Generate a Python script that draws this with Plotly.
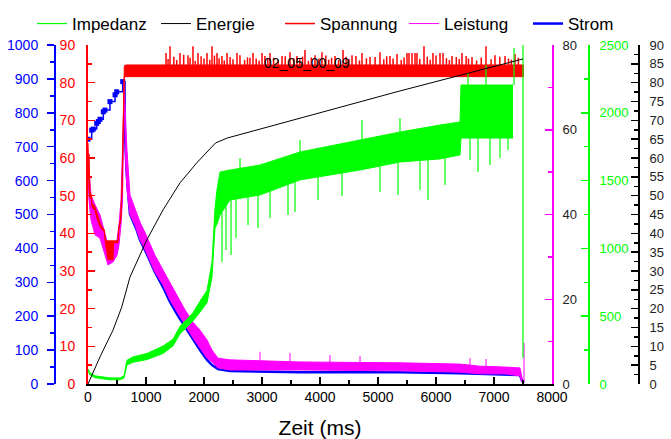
import numpy as np
import plotly.graph_objects as go

W, H = 671, 439
FONT = "Liberation Sans, Arial, sans-serif"

# ---------------- data ----------------
# Energie (black, right-most axis 0..90)
energie_t = [0, 207, 431, 581, 724, 1012, 1293, 1586, 1874, 2103, 2200, 2400, 2736, 3310, 5379, 7500]
energie_v = [0, 7.2, 14.3, 20.4, 28.4, 38.2, 46.2, 53.4, 58.7, 62.6, 64.0, 65.3, 66.7, 69.2, 77.8, 86.3]

# Spannung (red, 0..90) - band envelope + spikes
span_t = [0, 8, 17, 26, 34, 60, 69, 121, 155, 200, 241, 280, 300, 345, 362, 431, 440, 517, 530,
          564, 586, 609, 626, 660, 7517]
span_up = [64, 58, 61, 52, 51, 50, 48, 47, 45, 43, 41.5, 41, 38, 38, 38, 38, 38, 38, 41.5,
           44, 52, 70, 84.5, 84.7, 84.7]
span_lo = [58, 54, 55, 50, 49.5, 49, 47, 46, 44, 42, 41, 40.5, 37.5, 33, 33, 33, 37.5, 37.5, 41,
           43.5, 51, 68, 81.5, 81.6, 81.6]
span_spk_t = [1345, 1414, 1586, 1724, 1810, 1897, 2052, 2138, 2224, 2310, 2397, 2569, 2793, 2845,
              3000, 3138, 3345, 3483, 3603, 3741, 3914, 4034, 4259, 4397, 4552, 4724, 4862, 5034,
              5207, 5328, 5500, 5534, 5586, 5638, 5672, 5793, 5948, 6069, 6121, 6276, 6448, 6621,
              6862, 7017, 7190, 7362]
span_spk_v = [87.9, 89.7, 87.9, 87.3, 89.7, 87.9, 87.9, 89.7, 87.9, 87.1, 87.9, 87.9, 86.6, 87.9,
              87.9, 87.9, 87.1, 88.1, 87.1, 88.7, 87.3, 88.1, 87.1, 88.7, 87.3, 87.9, 86.8, 88.1,
              87.1, 87.6, 87.9, 87.9, 87.9, 87.9, 87.9, 89.7, 87.9, 87.9, 87.9, 87.1, 87.9, 86.8,
              89.7, 87.3, 87.1, 87.6]
span_fuzz_t = [1380, 1480, 1530, 1650, 1760, 1850, 1950, 2000, 2100, 2180, 2260, 2350, 2450, 2500,
               2620, 2700, 2750, 2900, 2950, 3050, 3100, 3200, 3280, 3400, 3550, 3650, 3700, 3800,
               3850, 3980, 4100, 4150, 4200, 4320, 4450, 4500, 4620, 4680, 4800, 4950, 5100, 5150,
               5260, 5400, 5450, 5720, 5850, 5900, 6000, 6180, 6230, 6350, 6400, 6520, 6560, 6700,
               6780, 6950, 7100, 7250, 7300, 7420]
span_fuzz_v = [86.3, 86.9, 86.0, 87.4, 86.6, 85.8, 87.0, 86.4, 86.1, 87.2, 86.5, 85.9, 86.8, 86.2,
               87.3, 86.0, 86.7, 86.4, 85.9, 87.1, 86.3, 86.6, 86.0, 87.0, 86.5, 86.2, 86.9, 85.8,
               86.7, 86.4, 87.2, 86.1, 86.6, 86.0, 86.9, 86.3, 87.1, 85.9, 86.5, 86.8, 86.2, 87.0,
               86.4, 86.0, 86.7, 86.3, 86.9, 86.1, 87.2, 86.5, 86.0, 86.8, 86.3, 87.1, 86.4, 85.9,
               86.7, 86.2, 86.9, 86.4, 86.1, 86.6]

# Leistung (magenta, 0..80) - band envelope + spikes
leis_t = [0, 17, 52, 121, 207, 293, 345, 431, 500, 534, 569, 595, 626, 647, 672, 724, 810, 897,
          1000, 1155, 1293, 1414, 1534, 1672, 1810, 1931, 2052, 2138, 2241, 2448, 3655, 5379,
          6414, 6759, 7190, 7448, 7483, 7517]
leis_up = [55.2, 50.5, 44.6, 42.3, 39.9, 35.2, 32.8, 32.8, 34.0, 37.5, 43.4, 55.2, 71.3, 62.3,
           55.2, 44.6, 41.5, 38.2, 35.2, 30.4, 26.9, 23.8, 21.0, 17.5, 14.6, 12.7, 10.4, 8.0,
           6.1, 5.7, 5.2, 5.0, 4.7, 4.2, 4.0, 3.8, 1.4, 0.5]
leis_lo = [49.3, 43.4, 38.7, 35.2, 34.4, 30.4, 28.1, 28.8, 30.4, 32.8, 37.5, 43.4, 69.4, 52.9,
           45.8, 39.9, 37.5, 34.0, 31.2, 26.4, 23.4, 19.8, 17.0, 13.9, 10.9, 8.5, 6.1, 5.2,
           3.8, 3.3, 3.3, 3.1, 2.8, 2.4, 2.4, 1.9, 0.5, 0.2]
leis_spk_t = [2966, 3483, 4172, 4690, 6586, 6862, 7517]
leis_spk_v = [7.6, 7.3, 6.8, 6.6, 6.1, 5.9, 9.7]

# Strom (blue, 0..1000)
strom_early_t = [0, 64, 92, 150, 178, 207, 264, 293, 379, 466, 495, 598]
strom_early_v = [722, 749, 752, 769, 774, 781, 803, 808, 833, 853, 862, 892]
strom_t = [598, 629, 638, 664, 695, 724, 840, 897, 1012, 1155, 1293, 1414, 1534, 1672, 1810,
           1931, 2052, 2138, 2241, 2448, 3655, 5379, 6414, 6759, 7448, 7483, 7517]
strom_v = [892, 891, 740, 631, 558, 501, 454, 425, 384, 330, 286, 242, 206, 168, 130, 100, 71,
           56, 44, 38, 35, 35, 32, 29.5, 26.5, 9, 3]

# Impedanz (green, 0..2500) - band envelope + spikes
imp_t = [0, 34, 121, 259, 379, 552, 621, 672, 776, 1017, 1293, 1466, 1586, 1707, 1810, 1931,
         2052, 2138, 2190, 2224, 2276, 2448, 2966, 3655, 4690, 5379, 6069, 6414, 6431, 7328]
imp_up = [110, 82, 60, 52, 45, 45, 60, 175, 200, 225, 280, 330, 425, 480, 525, 610, 690, 900,
          1300, 1431, 1563, 1578, 1615, 1711, 1799, 1858, 1910, 1932, 2205, 2205]
imp_lo = [96, 68, 46, 38, 31, 31, 45, 140, 160, 180, 225, 280, 370, 420, 465, 530, 600, 790,
          1150, 1180, 1246, 1357, 1394, 1505, 1578, 1637, 1660, 1689, 1814, 1814]
imp_dn_t = [2310, 2379, 2466, 2552, 2759, 2931, 3138, 3448, 3569, 3966, 4379, 5034, 5345, 5724,
            5862, 6155, 6586, 6724, 6931, 7103, 7241]
imp_dn_v = [900, 988, 951, 1077, 1173, 1150, 1224, 1246, 1268, 1357, 1386, 1416, 1394, 1431,
            1357, 1468, 1652, 1563, 1615, 1667, 1726]
imp_upk_t = [2621, 3655, 4724, 5379, 6552, 6862, 7345]
imp_upk_v = [1667, 1799, 1947, 1962, 2294, 2352, 2478]
imp_tail_t = [7500, 7500]
imp_tail_v = [2500, 192]

legend_names = ["Impedanz", "Energie", "Spannung", "Leistung", "Strom"]
label_text = "02_05_00_09"
x_title = "Zeit (ms)"

C_BLUE, C_RED, C_MAG, C_GRN, C_BLK = "#0000FF", "#FF0000", "#FF00FF", "#00FF00", "#000000"


def spikes(ts, tips, base_t, base_v):
    xs, ys = [], []
    for t, v in zip(ts, tips):
        xs += [t, t, None]
        ys += [float(np.interp(t, base_t, base_v)), v, None]
    return xs, ys


fig = go.Figure()

# --- Strom (y) ---
fig.add_trace(go.Scatter(x=strom_early_t, y=strom_early_v, mode="lines+markers", yaxis="y",
                         line=dict(color=C_BLUE, width=1.5, shape="hv"),
                         marker=dict(symbol="square", size=5, color=C_BLUE),
                         showlegend=False, hoverinfo="skip"))
fig.add_trace(go.Scatter(x=strom_t, y=strom_v, mode="lines", yaxis="y", name=legend_names[4],
                         legendrank=5, line=dict(color=C_BLUE, width=2.5)))

# --- Leistung (y2) ---
fig.add_trace(go.Scatter(x=leis_t, y=leis_lo, mode="lines", yaxis="y2", showlegend=False,
                         line=dict(color=C_MAG, width=1)))
fig.add_trace(go.Scatter(x=leis_t, y=leis_up, mode="lines", yaxis="y2", showlegend=False,
                         fill="tonexty", fillcolor=C_MAG, line=dict(color=C_MAG, width=1)))
sx, sy = spikes(leis_spk_t, leis_spk_v, leis_t, leis_up)
fig.add_trace(go.Scatter(x=sx, y=sy, mode="lines", yaxis="y2", name=legend_names[3],
                         legendrank=4, line=dict(color=C_MAG, width=1)))

# --- Spannung (y3) ---
fig.add_trace(go.Scatter(x=span_t, y=span_lo, mode="lines", yaxis="y3", showlegend=False,
                         line=dict(color=C_RED, width=1)))
fig.add_trace(go.Scatter(x=span_t, y=span_up, mode="lines", yaxis="y3", showlegend=False,
                         fill="tonexty", fillcolor=C_RED, line=dict(color=C_RED, width=1)))
sx, sy = spikes(span_fuzz_t, span_fuzz_v, span_t, span_up)
fig.add_trace(go.Scatter(x=sx, y=sy, mode="lines", yaxis="y3", showlegend=False,
                         line=dict(color=C_RED, width=1.5)))
sx, sy = spikes(span_spk_t, span_spk_v, span_t, span_up)
fig.add_trace(go.Scatter(x=sx, y=sy, mode="lines", yaxis="y3", name=legend_names[2],
                         legendrank=3, line=dict(color=C_RED, width=1.5)))

# --- Impedanz (y4) ---
fig.add_trace(go.Scatter(x=imp_t, y=imp_lo, mode="lines", yaxis="y4", showlegend=False,
                         line=dict(color=C_GRN, width=1)))
fig.add_trace(go.Scatter(x=imp_t, y=imp_up, mode="lines", yaxis="y4", showlegend=False,
                         fill="tonexty", fillcolor=C_GRN, line=dict(color=C_GRN, width=1)))
sx, sy = spikes(imp_dn_t, imp_dn_v, imp_t, imp_lo)
fig.add_trace(go.Scatter(x=sx, y=sy, mode="lines", yaxis="y4", showlegend=False,
                         line=dict(color=C_GRN, width=1.2)))
sx, sy = spikes(imp_upk_t, imp_upk_v, imp_t, imp_up)
fig.add_trace(go.Scatter(x=sx, y=sy, mode="lines", yaxis="y4", name=legend_names[0],
                         legendrank=1, line=dict(color=C_GRN, width=1.2)))
fig.add_trace(go.Scatter(x=imp_tail_t, y=imp_tail_v, mode="lines", yaxis="y4", showlegend=False,
                         line=dict(color=C_GRN, width=1.2)))

# --- Energie (y5) ---
fig.add_trace(go.Scatter(x=energie_t, y=energie_v, mode="lines", yaxis="y5",
                         name=legend_names[1], legendrank=2,
                         line=dict(color=C_BLK, width=1)))

XD = [88 / W, 552 / W]


def yax(color, rng, dtick, minor, side, anchor, position=None, ticks="inside",
        labelcolor=None, size=13, overlay=True, standoff=4):
    d = dict(range=rng, dtick=dtick, tick0=0, side=side, anchor=anchor,
             showgrid=False, zeroline=False, showline=True, linecolor=color, linewidth=2,
             ticks=ticks, ticklen=7, tickwidth=1.5, tickcolor=color,
             minor=dict(dtick=minor, ticks=ticks, ticklen=4, tickwidth=1.5, tickcolor=color),
             tickfont=dict(family=FONT, size=size, color=labelcolor or color),
             ticklabelstandoff=standoff, fixedrange=True)
    if position is not None:
        d["position"] = position
    if overlay:
        d["overlaying"] = "y"
    return d


fig.update_layout(
    width=W, height=H,
    margin=dict(l=0, r=0, t=45, b=55),
    paper_bgcolor="white", plot_bgcolor="white",
    template="none",
    font=dict(family=FONT, color="black"),
    xaxis=dict(domain=XD, range=[0, 8000], dtick=1000, tick0=0, anchor="y3",
               showgrid=False, zeroline=False, showline=True, linecolor="black", linewidth=1.5,
               ticks="inside", ticklen=7, tickwidth=1.5, tickcolor="black",
               minor=dict(dtick=500, ticks="inside", ticklen=4, tickwidth=1.5, tickcolor="black"),
               tickfont=dict(family=FONT, size=14, color="black"),
               title=dict(text=x_title, font=dict(family=FONT, size=21, color="black"),
                          standoff=16)),
    yaxis=yax(C_BLUE, [0, 1000], 100, 50, "left", "free", 55 / W, ticks="outside",
              size=14, overlay=False, standoff=6),
    yaxis2=yax(C_MAG, [0, 80], 20, 10, "right", "x", labelcolor="#222222", standoff=6),
    yaxis3=yax(C_RED, [0, 90], 10, 5, "left", "x", size=14, standoff=8),
    yaxis4=yax(C_GRN, [0, 2500], 500, 250, "right", "free", 589 / W, standoff=7),
    yaxis5=yax(C_BLK, [0, 90], 5, 2.5, "right", "free", 639 / W, labelcolor="#222222",
               standoff=7),
    legend=dict(orientation="h", x=32 / W, y=1 + 39 / 339, xanchor="left", yanchor="top",
                font=dict(family=FONT, size=17), bgcolor="rgba(0,0,0,0)", borderwidth=0,
                entrywidth=79, itemwidth=30, traceorder="normal"),
    annotations=[dict(text=label_text, x=307 / W, y=(384 - 63) / 339, xref="paper",
                      yref="paper", xanchor="center", yanchor="middle", showarrow=False,
                      font=dict(family=FONT, size=14, color="black"))],
    showlegend=True,
    hovermode=False,
)

fig.write_html("out.html",
               config={"displayModeBar": False, "staticPlot": True},
               post_script="document.body.style.margin='0';"
                           "document.body.style.overflow='hidden';")
